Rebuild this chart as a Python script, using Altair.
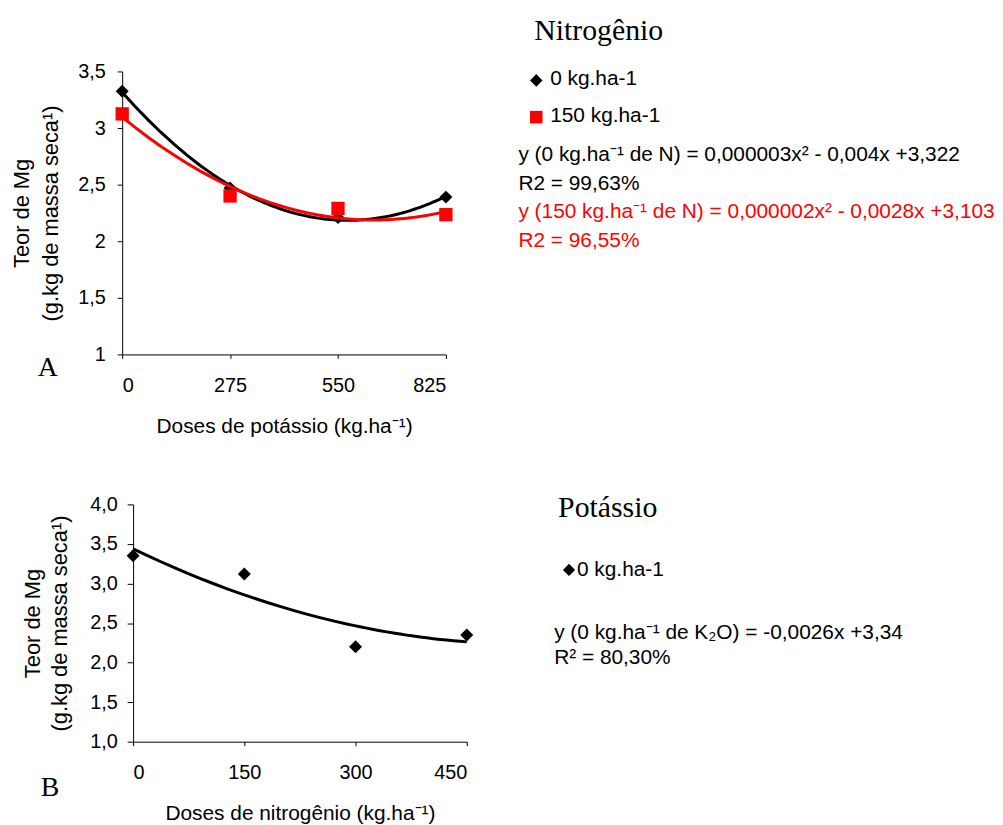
import altair as alt
import pandas as pd

# ---------------- data ----------------
doses_potassio = [0, 275, 550, 825]
mg_0N = [3.325, 2.47, 2.21, 2.39]
mg_150N = [3.125, 2.40, 2.29, 2.235]
serie_labels = ["0 kg.ha-1", "150 kg.ha-1"]

doses_nitrogenio = [0, 150, 300, 450]
mg_0K = [3.35, 3.12, 2.20, 2.35]

ticks_x_a = [0, 275, 550, 825]
ticks_y_a = [1, 1.5, 2, 2.5, 3, 3.5]
ticks_x_b = [0, 150, 300, 450]
ticks_y_b = [1.0, 1.5, 2.0, 2.5, 3.0, 3.5, 4.0]

title_y = ["Teor de Mg", "(g.kg de massa seca¹)"]
title_x_a = "Doses de potássio (kg.ha⁻¹)"
title_x_b = "Doses de nitrogênio (kg.ha⁻¹)"

legend_a_title = "Nitrogênio"
eq_a = ["y (0 kg.ha⁻¹ de N) = 0,000003x² - 0,004x +3,322", "R2 = 99,63%",
        "y (150 kg.ha⁻¹ de N) = 0,000002x² - 0,0028x +3,103", "R2 = 96,55%"]
eq_a_colors = ["#000000", "#000000", "#ff0000", "#ff0000"]
legend_b_title = "Potássio"
legend_b_item = "0 kg.ha-1"
eq_b = ["y (0 kg.ha⁻¹ de K₂O) = -0,0026x +3,34", "R² = 80,30%"]

SANS = "Liberation Sans"
SERIF = "Liberation Serif"
BLACK = "#000000"
RED = "#ff0000"


def label(txt, x, y, size, color=BLACK, font=SANS):
    return alt.Chart(pd.DataFrame({"t": [txt]})).mark_text(
        align="left", baseline="alphabetic", font=font, fontSize=size, color=color
    ).encode(text="t:N", x=alt.value(x), y=alt.value(y))


def symbol(shape, x, y, size, color):
    return alt.Chart(pd.DataFrame({"t": [0]})).mark_point(
        shape=shape, filled=True, size=size, color=color, opacity=1
    ).encode(x=alt.value(x), y=alt.value(y))


# ---------------- panel A ----------------
df_a = pd.DataFrame({
    "dose": doses_potassio * 2,
    "mg": mg_0N + mg_150N,
    "serie": [serie_labels[0]] * 4 + [serie_labels[1]] * 4,
})
color_scale = alt.Scale(domain=serie_labels, range=[BLACK, RED])

xa = alt.X("dose:Q", scale=alt.Scale(domain=[0, 825], nice=False, zero=False),
           axis=alt.Axis(values=ticks_x_a, title=title_x_a, grid=False, tickSize=4,
                         labelPadding=17, titleY=79, titleBaseline="alphabetic"))
ya = alt.Y("mg:Q", scale=alt.Scale(domain=[1, 3.5], nice=False, zero=False),
           axis=alt.Axis(values=ticks_y_a, title=title_y, grid=False, tickSize=5,
                         labelPadding=12, titleFontSize=22,
                         labelExpr="replace(format(datum.value, '.1~f'), '.', ',')",
                         titleX=-111, titleBaseline="top", titleLineHeight=29))

base_a = alt.Chart(df_a).encode(x=xa, y=ya)
lines_a = base_a.transform_regression(
    "dose", "mg", method="poly", order=2, groupby=["serie"], extent=[0, 825]
).mark_line(strokeWidth=3).encode(color=alt.Color("serie:N", scale=color_scale, legend=None))
pts_a0 = base_a.transform_filter(alt.datum.serie == serie_labels[0]).mark_point(
    shape="diamond", filled=True, size=170, color=BLACK, opacity=1)
pts_a1 = base_a.transform_filter(alt.datum.serie == serie_labels[1]).mark_point(
    shape="square", filled=True, size=180, color=RED, opacity=1)

layers_a = [pts_a0, pts_a1, lines_a,
            label(legend_a_title, 415, -32, 30, font=SERIF),
            symbol("diamond", 417, 9, 160, BLACK),
            label(serie_labels[0], 431, 14, 21),
            symbol("square", 417, 46, 160, RED),
            label(serie_labels[1], 431, 51, 21),
            label("A", -85, 307, 28, font=SERIF)]
for i, (t, c) in enumerate(zip(eq_a, eq_a_colors)):
    layers_a.append(label(t, 399, 90 + 29 * i, 21, color=c))

panel_a = alt.layer(*layers_a).properties(width=326, height=285)

# ---------------- panel B ----------------
# view origin is 11px left of this panel's y axis (axis offset -11, x range starts at 11)
df_b = pd.DataFrame({"dose": doses_nitrogenio, "mg": mg_0K})
xb = alt.X("dose:Q", scale=alt.Scale(domain=[0, 450], nice=False, zero=False, range=[11, 347]),
           axis=alt.Axis(values=ticks_x_b, title=title_x_b, grid=False, tickSize=4,
                         labelPadding=17, titleY=78, titleBaseline="alphabetic",
                         titleX=179))
yb = alt.Y("mg:Q", scale=alt.Scale(domain=[1, 4], nice=False, zero=False),
           axis=alt.Axis(values=ticks_y_b, title=title_y, grid=False, tickSize=6,
                         labelPadding=10, offset=-11, titleFontSize=22,
                         labelExpr="replace(format(datum.value, '.1f'), '.', ',')",
                         titleX=-111, titleBaseline="top", titleLineHeight=27))
base_b = alt.Chart(df_b).encode(x=xb, y=yb)
line_b = base_b.transform_regression(
    "dose", "mg", method="poly", order=2, extent=[0, 450]
).mark_line(strokeWidth=3, color=BLACK)
pts_b = base_b.mark_point(shape="diamond", filled=True, size=170, color=BLACK, opacity=1)

layers_b = [pts_b, line_b,
            label(legend_b_title, 439, 13, 30, font=SERIF),
            symbol("diamond", 450, 66, 150, BLACK),
            label(legend_b_item, 458, 72, 21),
            label("B", -82, 294, 28, font=SERIF)]
for i, t in enumerate(eq_b):
    layers_b.append(label(t, 435, 136 + 25 * i, 21))

panel_b = alt.layer(*layers_b).properties(width=347, height=239)

chart = alt.vconcat(panel_a, panel_b, spacing=57).properties(
    padding={"left": 3, "top": 5, "right": 0, "bottom": 0}
).configure_view(stroke=None).configure_axis(
    domainColor=BLACK, tickColor=BLACK, labelColor=BLACK, titleColor=BLACK,
    labelFont=SANS, labelFontSize=20, titleFont=SANS, titleFontSize=21,
    titleFontWeight="normal", domainWidth=1, tickWidth=1
)

chart.save("out.html", embed_options={"renderer": "svg", "actions": False})
